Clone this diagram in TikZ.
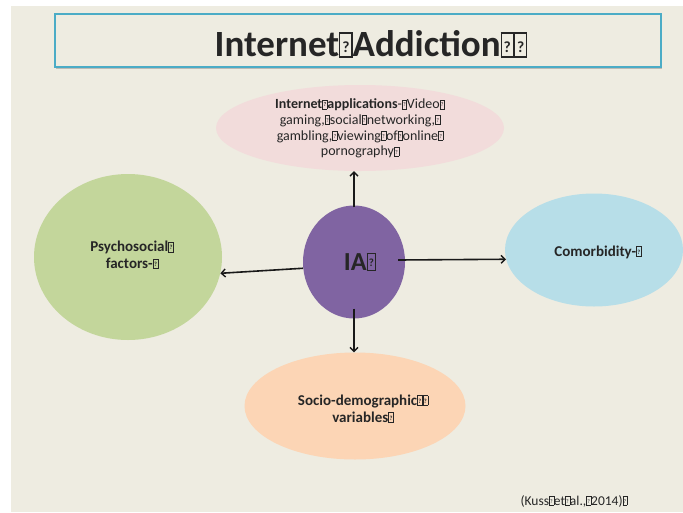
\documentclass[tikz,border=0pt]{standalone}
\usepackage{fontspec}
\setmainfont{Carlito}
\usetikzlibrary{shapes.geometric,arrows.meta,shadows}
\definecolor{bgtan}{HTML}{EEECE1}
\definecolor{teal}{HTML}{4BACC6}
\definecolor{pinkfill}{HTML}{F2DCDB}
\definecolor{greenfill}{HTML}{C3D69B}
\definecolor{purplefill}{HTML}{8064A2}
\definecolor{bluefill}{HTML}{B7DEE8}
\definecolor{peachfill}{HTML}{FCD5B5}
\definecolor{txt}{HTML}{262626}
\newcommand\qb{\begingroup\setlength\fboxsep{0pt}\setlength\fboxrule{0.03em}\fbox{\makebox[0.3em]{\rule{0pt}{0.62em}\raisebox{0.12em}{\scalebox{0.42}{?}}}}\endgroup}
\begin{document}
\begin{tikzpicture}[x=1pt,y=-1pt,
  blob/.style={ellipse, draw=none, inner sep=0pt},
  lbl/.style={text=txt, align=center, inner sep=0pt},
  conn/.style={draw=black!90, line width=1.6pt, -{Straight Barb[length=4pt,width=8pt,line width=1.4pt]}}]
\useasboundingbox (0,0) rectangle (683,512);
\fill[white] (0,0) rectangle (683,512);
\fill[bgtan] (11,6) rectangle (683,512);
% title
\node[draw=teal, line width=1.8pt, fill=bgtan, minimum width=606pt, minimum height=53pt,
  drop shadow={shadow xshift=1pt, shadow yshift=-2pt, opacity=0.45}] (title) at (358,40.5) {};
\node[lbl, font=\fontsize{37}{40}\selectfont\bfseries] (titletxt) at (371,44) {Internet\qb Addiction\qb\qb};
% ellipses
\node[blob, fill=pinkfill, minimum width=288pt, minimum height=86pt] (pink) at (360,128) {};
\node[blob, fill=greenfill, minimum width=188pt, minimum height=166pt] (green) at (128,257) {};
\node[blob, fill=purplefill, minimum width=102pt, minimum height=113pt] (purple) at (354,262) {};
\node[blob, fill=bluefill, minimum width=178pt, minimum height=113pt] (blue) at (594,250) {};
\node[blob, fill=peachfill, minimum width=221pt, minimum height=107pt] (peach) at (355,406) {};
% labels
\node[lbl, font=\fontsize{14}{15.7}\selectfont] (pinktxt) at (360,128.5)
  {\textbf{Internet\qb applications}-\qb Video\qb\\gaming,\qb social\qb networking,\qb\\gambling,\qb viewing\qb of\qb online\qb\\pornography\qb};
\node[lbl, font=\fontsize{15}{16.5}\selectfont\bfseries] (greentxt) at (132,255) {Psychosocial\qb\\factors-\qb};
\node[lbl, font=\fontsize{26}{28}\selectfont\bfseries] (iatxt) at (360,262) {IA\qb};
\node[lbl, font=\fontsize{15}{16.5}\selectfont\bfseries] (bluetxt) at (598,252) {Comorbidity-\qb};
\node[lbl, font=\fontsize{15}{17}\selectfont\bfseries] (peachtxt) at (363,408.5) {Socio-demographic\qb\qb\\variables\qb};
\node[lbl, font=\fontsize{13.5}{16}\selectfont] (cite) at (574,501) {(Kuss\qb et\qb al.,\qb 2014)\qb};
% connectors
\draw[conn] ([yshift=-2pt]purple.north) -- (purple.north |- pink.south);
\draw[conn] (purple.187) -- (green.-10);
\draw[conn] ([xshift=-7pt,yshift=2pt]purple.east) -- (blue.186);
\draw[conn] ([yshift=10pt]purple.south) -- (purple.south |- peach.north);
\end{tikzpicture}
\end{document}
